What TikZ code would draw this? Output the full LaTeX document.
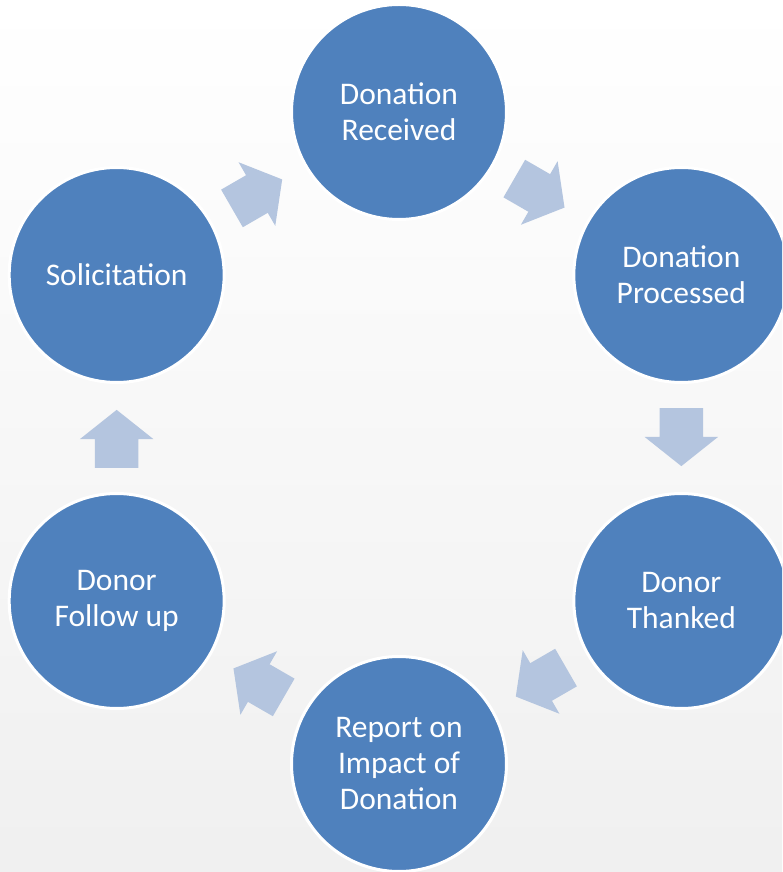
\documentclass[tikz,border=0pt]{standalone}
\usepackage{fontspec}
\setmainfont{Carlito}
\usetikzlibrary{calc,shapes.arrows}
\definecolor{stageblue}{RGB}{79,129,189}
\definecolor{arrowblue}{RGB}{180,197,223}
\tikzset{
    stage/.style={circle,draw=white,line width=3pt,fill=stageblue,minimum size=215pt,
        inner sep=0pt,text=white,align=center,font=\fontsize{31.5}{36}\selectfont},
    flow/.style={single arrow,fill=arrowblue,draw=none,inner xsep=0pt,inner ysep=21.5pt,
        minimum height=58pt,single arrow head extend=15pt,
        single arrow tip angle=103,rotate=#1,xshift=-9.5pt}
}

\begin{document}
\begin{tikzpicture}[x=1pt,y=1pt]

    \clip (-399,-434) rectangle (383,438);
    \shade[top color=white,bottom color=black!6] (-399,-434) rectangle (383,438);

    % the six stages, round a hexagon
    \node[stage] (received)    at (90:326)   {Donation\\Received};
    \node[stage] (processed)   at (30:326)   {Donation\\Processed};
    \node[stage] (thanked)     at (-30:326)  {Donor\\Thanked};
    \node[stage] (report)      at (-90:326)  {Report on\\Impact of\\Donation};
    \node[stage] (followup)    at (-150:326) {Donor\\Follow up};
    \node[stage] (solicit)     at (150:326)  {Solicitation};

    % block arrows halfway between stages
    \node[flow=-30]  (rec to proc)   at ($(received)!0.5!(processed)$) {};
    \node[flow=-90]  (proc to thank) at ($(processed)!0.5!(thanked)$)  {};
    \node[flow=-150] (thank to rep)  at ($(thanked)!0.5!(report)$)    {};
    \node[flow=150]  (rep to follow) at ($(report)!0.5!(followup)$)   {};
    \node[flow=90]   (follow to sol) at ($(followup)!0.5!(solicit)$)  {};
    \node[flow=30]   (sol to rec)    at ($(solicit)!0.5!(received)$)  {};

\end{tikzpicture}
\end{document}
